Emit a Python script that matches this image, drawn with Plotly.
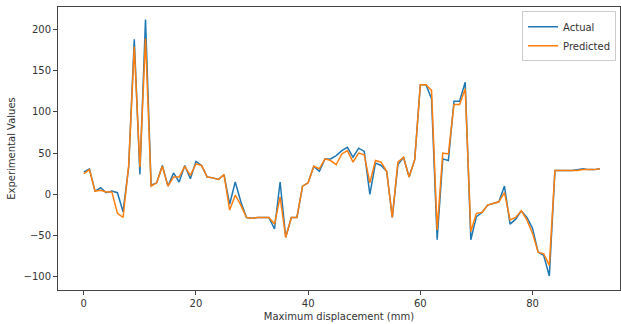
import plotly.graph_objects as go

x_idx = list(range(93))
actual = [27, 31, 4, 8, 2, 4, 2, -21, 33, 188,
          24, 212, 11, 14, 35, 10, 26, 15, 35, 19,
          40, 35, 21, 20, 18, 24, -12, 15, -9, -28,
          -29, -28, -28, -28, -42, 15, -52, -28, -28, 10,
          14, 34, 28, 43, 43, 47, 53, 57, 45, 56,
          52, 0, 38, 35, 28, -28, 36, 45, 21, 42,
          133, 133, 116, -55, 43, 41, 113, 113, 136, -55,
          -27, -22, -13, -11, -9, 10, -36, -30, -20, -28,
          -41, -70, -74, -99, 29, 29, 29, 29, 30, 31,
          30, 30, 31]
predicted = [25, 30, 4, 5, 3, 3, -23, -28, 35, 179,
             33, 189, 10, 14, 34, 10, 21, 21, 34, 23,
             37, 35, 21, 20, 18, 24, -19, -1, -13, -28,
             -29, -28, -28, -28, -36, -3, -52, -28, -28, 10,
             14, 34, 31, 43, 41, 36, 49, 53, 39, 50,
             48, 14, 41, 39, 28, -28, 39, 45, 21, 42,
             133, 133, 126, -43, 50, 49, 109, 109, 128, -45,
             -23, -22, -13, -11, -9, 2, -31, -28, -20, -31,
             -47, -70, -72, -86, 29, 29, 29, 29, 29, 30,
             30, 30, 31]
x_ticks = [0, 20, 40, 60, 80]
y_ticks = [-100, -50, 0, 50, 100, 150, 200]
y_ticktext = ["\u2212100", "\u221250", "0", "50", "100", "150", "200"]

fig = go.Figure()
fig.add_trace(go.Scatter(x=x_idx, y=actual, mode="lines", name="Actual",
                         line=dict(color="#1f77b4", width=1.5)))
fig.add_trace(go.Scatter(x=x_idx, y=predicted, mode="lines", name="Predicted",
                         line=dict(color="#ff7f0e", width=1.5)))

axis_common = dict(showgrid=False, zeroline=False, showline=True, mirror=True,
                   linecolor="#444", linewidth=1, ticks="outside", ticklen=4,
                   tickcolor="#444", tickfont=dict(size=10, color="#333"))

fig.update_layout(
    width=621, height=324,
    margin=dict(l=58, r=1, t=7, b=34),
    paper_bgcolor="white", plot_bgcolor="white",
    font=dict(family="DejaVu Sans", size=10, color="#333"),
    xaxis=dict(range=[-4.6, 95.6], tickvals=x_ticks,
               title=dict(text="Maximum displacement (mm)", font=dict(size=10), standoff=4),
               **axis_common),
    yaxis=dict(range=[-115.9, 227.1], tickvals=y_ticks, ticktext=y_ticktext,
               title=dict(text="Experimental Values", font=dict(size=10), standoff=6),
               **axis_common),
    legend=dict(x=0.993, xanchor="right", y=0.985, yanchor="top",
                bgcolor="rgba(255,255,255,0.9)", bordercolor="#ccc", borderwidth=1,
                font=dict(size=10, color="#333"), itemwidth=30),
    showlegend=True,
)

fig.write_html("out.html")
